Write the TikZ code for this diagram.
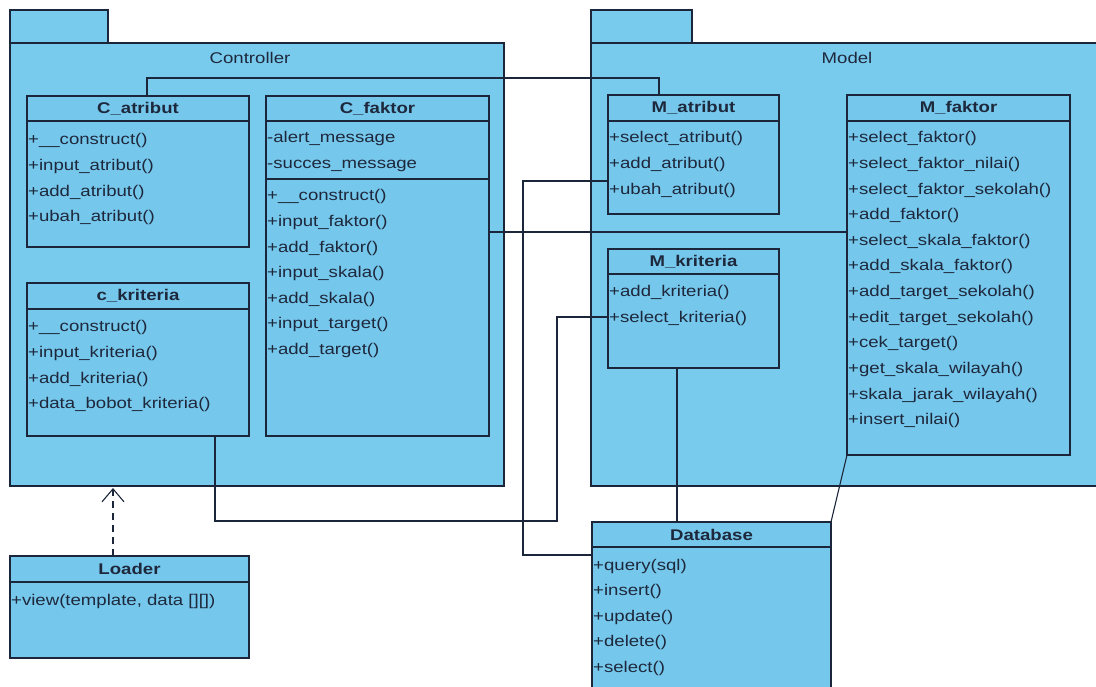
\documentclass[tikz,border=0pt]{standalone}
\usepackage{fontspec}
\setmainfont{Liberation Sans}[FakeStretch=1.2]
\usetikzlibrary{calc,arrows.meta}

\definecolor{pkgfill}{RGB}{121,203,237}
\definecolor{clsfill}{RGB}{117,199,235}
\definecolor{ink}{RGB}{28,38,58}
\definecolor{txt}{RGB}{30,40,60}

\tikzset{
  pkg/.style={draw=ink, fill=pkgfill, line width=1.1pt, anchor=north west, inner sep=0pt, outer sep=0pt},
  cls/.style={draw=ink, fill=clsfill, line width=1.1pt, anchor=north west, inner sep=0pt, outer sep=0pt},
  sepline/.style={draw=ink, line width=1.1pt},
  member/.style={font=\fontsize{15.5}{18}\selectfont, text=txt, inner sep=0pt, anchor=base west},
  ctitle/.style={font=\fontsize{15.5}{18}\selectfont\bfseries, text=txt, inner sep=0pt},
  pname/.style={font=\fontsize{15.5}{18}\selectfont, text=txt, inner sep=0pt},
  link/.style={draw=ink, line width=1.1pt},
  dep/.style={draw=ink, line width=1.1pt, dash pattern=on 7pt off 5pt,
              -{Straight Barb[length=13pt,width=22pt,line width=1.1pt]}},
}

% class box: name, x, y, width, height, header height, title
\newcommand{\umlclass}[7]{%
  \node[cls, minimum width=#4, minimum height=#5] (#1) at (#2,#3) {};
  \draw[sepline] ($(#1.north west)+(0,#6)$) -- ($(#1.north east)+(0,#6)$);
  \node[ctitle] (#1-title) at ($(#1.north)+(0,#6/2)$) {#7};
}
% list of members: prefix, x, first baseline, entries
\newcommand{\umlmembers}[4]{%
  \foreach \m [count=\i] in {#4} {\node[member] (#1-\i) at (#2,{#3+(\i-1)*25.6}) {\m};}
}

\begin{document}
\begin{tikzpicture}[x=1pt, y=-1pt]
  \useasboundingbox (0,0) rectangle (1096,687);
  \fill[white] (0,0) rectangle (1096,687);
  \clip (0,0) rectangle (1096,687);

  % packages
  \node[pkg, minimum width=98, minimum height=33] (ctrltab) at (10,10) {};
  \node[pkg, minimum width=494, minimum height=443] (ctrl) at (10,43) {};
  \node[pname] (ctrl-name) at (250,58) {Controller};

  \node[pkg, minimum width=101, minimum height=33] (modeltab) at (591,10) {};
  \node[pkg, minimum width=520, minimum height=443] (model) at (591,43) {};
  \node[pname] (model-name) at (847,58) {Model};

  % controller classes
  \umlclass{catr}{27}{96}{222}{151}{25}{C\_atribut}
  \umlmembers{catr}{28}{145}{+\_\_construct(), +input\_atribut(), +add\_atribut(), +ubah\_atribut()}

  \umlclass{ckri}{27}{283}{222}{153}{26}{c\_kriteria}
  \umlmembers{ckri}{28}{332}{+\_\_construct(), +input\_kriteria(), +add\_kriteria(), +data\_bobot\_kriteria()}

  \umlclass{cfak}{266}{96}{223}{340}{25}{C\_faktor}
  \draw[sepline] ($(cfak.north west)+(0,83)$) -- ($(cfak.north east)+(0,83)$);
  \umlmembers{cfaka}{267}{143}{-alert\_message, -succes\_message}
  \umlmembers{cfak}{267}{201}{+\_\_construct(), +input\_faktor(), +add\_faktor(), +input\_skala(), +add\_skala(), +input\_target(), +add\_target()}

  % model classes
  \umlclass{matr}{608}{95}{171}{119}{26}{M\_atribut}
  \umlmembers{matr}{609}{143}{+select\_atribut(), +add\_atribut(), +ubah\_atribut()}

  \umlclass{mkri}{608}{249}{171}{119}{25}{M\_kriteria}
  \umlmembers{mkri}{609}{297}{+add\_kriteria(), +select\_kriteria()}

  \umlclass{mfak}{847}{95}{223}{360}{26}{M\_faktor}
  \umlmembers{mfak}{848}{143}{+select\_faktor(), +select\_faktor\_nilai(), +select\_faktor\_sekolah(), +add\_faktor(), +select\_skala\_faktor(), +add\_skala\_faktor(), +add\_target\_sekolah(), +edit\_target\_sekolah(), +cek\_target(), +get\_skala\_wilayah(), +skala\_jarak\_wilayah(), +insert\_nilai()}

  % stand-alone classes
  \umlclass{loader}{10}{556}{239}{102}{26}{Loader}
  \umlmembers{loader}{11}{605}{{+view(template, data [][])}}

  \umlclass{db}{592}{522}{239}{190}{25}{Database}
  \umlmembers{db}{593}{570}{+query(sql), +insert(), +update(), +delete(), +select()}

  % associations
  \draw[link] ($(catr.north west)+(120,0)$) -- ++(0,-18) -| ($(matr.north west)+(51,0)$);
  \draw[link] ($(cfak.north east)+(0,136)$) -- ($(mfak.north west)+(0,137)$);
  \draw[link] ($(matr.north west)+(0,86)$) -- ++(-85,0) |- ($(db.north west)+(0,33)$);
  \draw[link] ($(ckri.south west)+(188,0)$) -- ++(0,85) -- ++(342,0) |- ($(mkri.north west)+(0,68)$);
  \draw[link] ($(mkri.south west)+(69,0)$) -- ($(db.north west)+(85,0)$);
  \draw[link] (mfak.south west) -- (db.north east);

  % dependency
  \draw[dep] ($(loader.north west)+(103,0)$) -- ($(ctrl.south west)+(103,2)$);
\end{tikzpicture}
\end{document}
